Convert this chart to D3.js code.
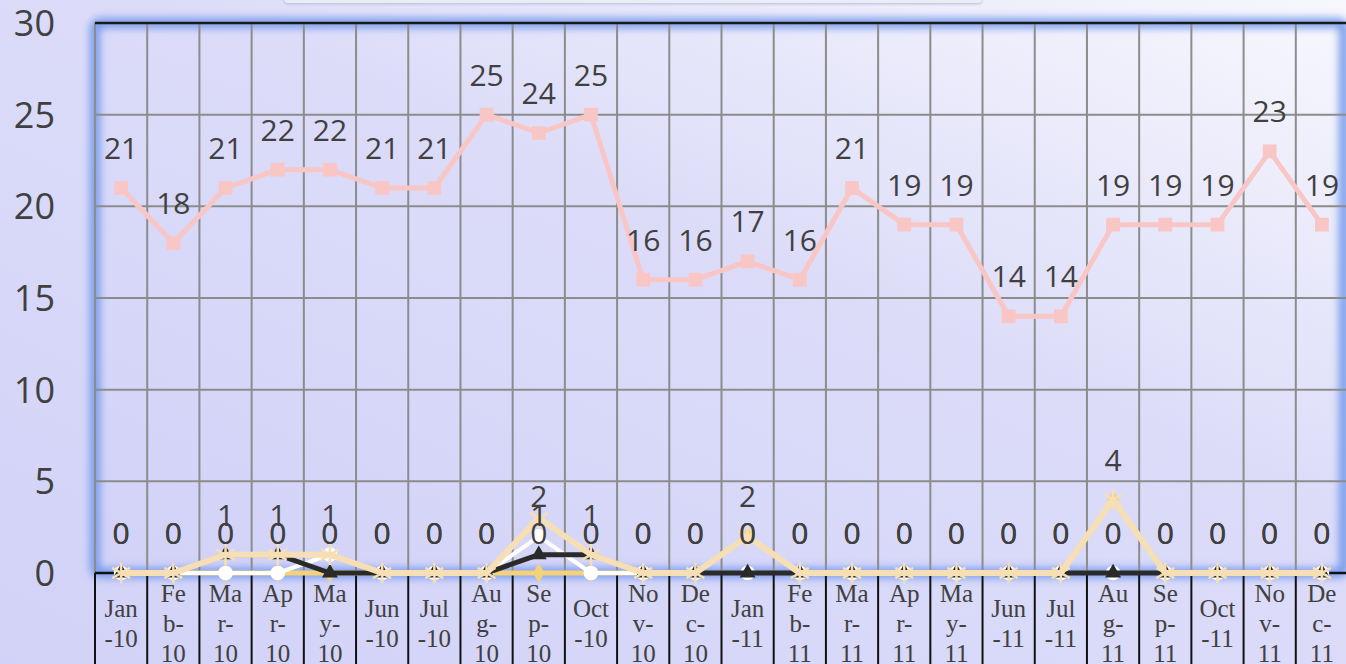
<!DOCTYPE html>
<html>
<head>
<meta charset="utf-8">
<script src="https://cdn.jsdelivr.net/npm/d3@7"></script>
<style>
  html, body { margin: 0; padding: 0; background: #d4d4f9; overflow: hidden; }
  svg { display: block; }
</style>
</head>
<body>
<div id="chart"></div>
<script>
// data
var categories = ["Jan-10","Feb-10","Mar-10","Apr-10","May-10","Jun-10","Jul-10","Aug-10","Sep-10","Oct-10","Nov-10","Dec-10",
                  "Jan-11","Feb-11","Mar-11","Apr-11","May-11","Jun-11","Jul-11","Aug-11","Sep-11","Oct-11","Nov-11","Dec-11"];
var tickLabels = ["Jan\n-10","Fe\nb-\n10","Ma\nr-\n10","Ap\nr-\n10","Ma\ny-\n10","Jun\n-10","Jul\n-10","Au\ng-\n10","Se\np-\n10","Oct\n-10","No\nv-\n10","De\nc-\n10",
                  "Jan\n-11","Fe\nb-\n11","Ma\nr-\n11","Ap\nr-\n11","Ma\ny-\n11","Jun\n-11","Jul\n-11","Au\ng-\n11","Se\np-\n11","Oct\n-11","No\nv-\n11","De\nc-\n11"];
var pinkValues  = [21,18,21,22,22,21,21,25,24,25,16,16,17,16,21,19,19,14,14,19,19,19,23,19];
var goldValues  = [0,0,0,0,0,0,0,0,0,0,0,0,2,0,0,0,0,0,0,4,0,0,0,0];
var whiteValues = [0,0,0,0,1,0,0,0,2,0,0,0,0,0,0,0,0,0,0,0,0,0,0,0];
var blackValues = [0,0,1,1,0,0,0,0,1,1,0,0,0,0,0,0,0,0,0,0,0,0,0,0];
var creamValues = [0,0,1,1,1,0,0,0,3,1,0,0,2,0,0,0,0,0,0,4,0,0,0,0];
var yTicks = [0,5,10,15,20,25,30];

var width = 1346, height = 664;
var margin = {top: 23, left: 95, right: -2, bottom: 91};

var svg = d3.select("#chart").append("svg")
    .attr("width", width)
    .attr("height", height);

var defs = svg.append("defs");
var bg = defs.append("linearGradient").attr("id", "bg")
    .attr("x1", 0).attr("y1", 1).attr("x2", 1).attr("y2", 0);
bg.append("stop").attr("offset", "0%").attr("stop-color", "#d2d2f8");
bg.append("stop").attr("offset", "55%").attr("stop-color", "#dcdcf9");
bg.append("stop").attr("offset", "100%").attr("stop-color", "#f7f7fd");

var glow = defs.append("filter").attr("id", "glow")
    .attr("x", "-5%").attr("y", "-10%").attr("width", "110%").attr("height", "120%");
glow.append("feGaussianBlur").attr("stdDeviation", 4);

var soft = defs.append("filter").attr("id", "soft")
    .attr("x", "-5%").attr("y", "-50%").attr("width", "110%").attr("height", "200%");
soft.append("feGaussianBlur").attr("stdDeviation", 1.5);

// background
svg.append("rect")
    .attr("width", width).attr("height", height)
    .attr("fill", "url(#bg)");

// title box cut off at the top
svg.append("rect")
    .attr("x", 284).attr("y", -30).attr("width", 698).attr("height", 34).attr("rx", 4)
    .attr("fill", "#b8b8d0").attr("filter", "url(#soft)");
svg.append("rect")
    .attr("x", 284).attr("y", -30).attr("width", 698).attr("height", 33).attr("rx", 4)
    .attr("fill", "#ececf9");

var x = d3.scaleBand()
    .domain(categories)
    .range([margin.left, width - margin.right]);

var y = d3.scaleLinear()
    .domain([0, 30])
    .range([height - margin.bottom, margin.top]);

var plotW = width - margin.right - margin.left;
var plotH = y(0) - y(30);

// plot area
svg.append("rect")
    .attr("x", margin.left).attr("y", margin.top)
    .attr("width", plotW).attr("height", plotH)
    .attr("fill", "url(#bg)");

// blue glow round the plot area
svg.append("rect")
    .attr("x", margin.left).attr("y", margin.top)
    .attr("width", plotW - 4).attr("height", plotH).attr("rx", 5)
    .attr("fill", "none")
    .attr("stroke", "#6a93ea")
    .attr("stroke-width", 9)
    .attr("filter", "url(#glow)");

// horizontal grid
svg.append("g")
    .selectAll("line")
    .data(yTicks.slice(1, -1))
    .enter().append("line")
      .attr("x1", margin.left).attr("x2", width)
      .attr("y1", function(d){ return y(d); })
      .attr("y2", function(d){ return y(d); })
      .attr("stroke", "#8c8c8c").attr("stroke-width", 2);

// vertical grid at category boundaries
var bounds = categories.map(function(d){ return x(d); });
svg.append("g")
    .selectAll("line")
    .data(bounds)
    .enter().append("line")
      .attr("x1", function(d){ return d; }).attr("x2", function(d){ return d; })
      .attr("y1", y(30)).attr("y2", y(0))
      .attr("stroke", "#8c8c8c").attr("stroke-width", 2);

// top border
svg.append("line")
    .attr("x1", margin.left).attr("x2", width)
    .attr("y1", y(30)).attr("y2", y(30))
    .attr("stroke", "#1a1a1a").attr("stroke-width", 2.5);

// category axis with tick lines running down through the labels
svg.append("line")
    .attr("x1", margin.left).attr("x2", width)
    .attr("y1", y(0)).attr("y2", y(0))
    .attr("stroke", "#111").attr("stroke-width", 2.5);
svg.append("g")
    .selectAll("line")
    .data(bounds)
    .enter().append("line")
      .attr("x1", function(d){ return d; }).attr("x2", function(d){ return d; })
      .attr("y1", y(0)).attr("y2", height)
      .attr("stroke", "#111").attr("stroke-width", 2);

// x labels
var xl = svg.append("g")
    .attr("font-family", "'Liberation Serif', 'Times New Roman', serif")
    .attr("font-size", "25px")
    .attr("fill", "#404040")
    .attr("text-anchor", "middle");
categories.forEach(function(c, i){
  var lines = tickLabels[i].split("\n");
  var top = lines.length == 3 ? 602 : 617;
  var t = xl.append("text")
      .attr("x", x(c) + x.bandwidth()/2);
  lines.forEach(function(l, j){
    t.append("tspan")
      .attr("x", x(c) + x.bandwidth()/2)
      .attr("y", top + j*30)
      .text(l);
  });
});

// y labels
svg.append("g")
    .selectAll("text")
    .data(yTicks)
    .enter().append("text")
      .attr("x", 55)
      .attr("y", function(d){ return y(d) + 13; })
      .attr("text-anchor", "end")
      .attr("font-family", "'Open Sans', sans-serif")
      .attr("font-size", "36px")
      .attr("fill", "#404040")
      .text(function(d){ return d; });

var cx = function(d, i){ return x(categories[i]) + x.bandwidth()/2; };

function drawSeries(values, color, lineWidth, marker){
  var g = svg.append("g");
  var line = d3.line()
      .x(cx)
      .y(function(d){ return y(d); });
  g.append("path")
      .datum(values)
      .attr("d", line)
      .attr("fill", "none")
      .attr("stroke", color)
      .attr("stroke-width", lineWidth)
      .attr("stroke-linejoin", "round");
  var m = g.selectAll(".m")
      .data(values)
      .enter().append("path")
        .attr("transform", function(d, i){ return "translate(" + cx(d, i) + "," + y(d) + ")"; });
  if (marker == "square") {
    m.attr("d", d3.symbol(d3.symbolSquare, 190)).attr("fill", color);
  } else if (marker == "circle") {
    m.attr("d", d3.symbol(d3.symbolCircle, 170)).attr("fill", color);
  } else if (marker == "triangle") {
    m.attr("d", d3.symbol(d3.symbolTriangle, 110)).attr("fill", color);
  } else if (marker == "diamond") {
    m.attr("d", d3.symbol(d3.symbolDiamond, 110)).attr("fill", color);
  } else if (marker == "star") {
    m.attr("d", d3.symbol(d3.symbolAsterisk, 300))
      .attr("fill", "none")
      .attr("stroke", color)
      .attr("stroke-width", 2.5);
  }
}

drawSeries(pinkValues,  "#f9c6c6", 5, "square");
drawSeries(goldValues,  "#f4d27a", 5, "diamond");
drawSeries(whiteValues, "#ffffff", 4, "circle");
drawSeries(blackValues, "#2a2a2a", 5, "triangle");
drawSeries(creamValues, "#f6dfb4", 6, "star");

// data labels
var labelled = [pinkValues, goldValues, whiteValues, blackValues];
var lg = svg.append("g")
    .attr("font-family", "'Open Sans', sans-serif")
    .attr("font-size", "30px")
    .attr("fill", "#404040")
    .attr("text-anchor", "middle");
labelled.forEach(function(vals){
  lg.selectAll(null)
    .data(vals)
    .enter().append("text")
      .attr("x", cx)
      .attr("y", function(d){ return y(d) - 29; })
      .text(function(d){ return d; });
});
</script>
</body>
</html>
